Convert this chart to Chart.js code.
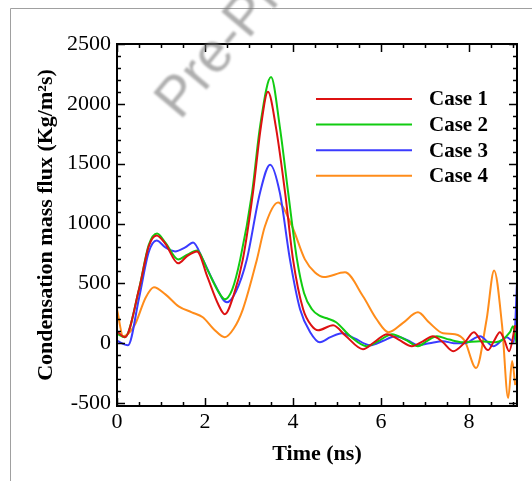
<!DOCTYPE html>
<html>
<head>
<meta charset="utf-8">
<script src="https://cdn.jsdelivr.net/npm/chart.js@4/dist/chart.umd.min.js"></script>
<style>
  html, body { margin: 0; padding: 0; background: #fff; }
  #wrap { width: 532px; height: 481px; }
</style>
</head>
<body>
<div id="wrap"><canvas id="fluxChart" width="532" height="481"></canvas></div>
<script>
// values
const seriesNames = ['Case 1', 'Case 2', 'Case 3', 'Case 4'];

const case1Time = [0, 0.18, 0.5, 0.72, 0.9, 1.1, 1.39, 1.6, 1.82, 2.05, 2.3, 2.45, 2.65, 2.86, 3.09, 3.27, 3.43, 3.61, 3.82, 4.0, 4.23, 4.43, 4.57, 4.91, 5.2, 5.59, 5.85, 6.14, 6.4, 6.7, 6.95, 7.18, 7.4, 7.64, 7.9, 8.11, 8.27, 8.43, 8.57, 8.7, 8.8, 8.91, 9.05];
const case1Flux = [100, 50, 450, 808, 900, 830, 667, 730, 767, 558, 325, 242, 400, 700, 1258, 1808, 2100, 1808, 1258, 700, 283, 142, 108, 150, 60, -50, 10, 75, 30, -25, 15, 58, 10, -67, 5, 92, 20, -58, 20, 92, 30, -67, 150];

const case2Time = [0, 0.18, 0.5, 0.72, 0.91, 1.1, 1.39, 1.6, 1.82, 2.05, 2.3, 2.45, 2.62, 2.8, 3.07, 3.25, 3.5, 3.7, 3.89, 4.09, 4.25, 4.43, 4.6, 4.77, 4.98, 5.3, 5.68, 5.95, 6.25, 6.55, 6.84, 7.05, 7.27, 7.55, 7.86, 8.25, 8.6, 8.93, 9.0, 9.08];
const case2Flux = [80, 50, 450, 820, 917, 840, 700, 740, 775, 617, 433, 367, 450, 700, 1258, 1808, 2225, 1808, 1258, 700, 420, 283, 230, 208, 175, 58, -25, 20, 75, 30, -25, 20, 58, 30, 8, 17, 8, 92, 142, 0];

const case3Time = [0, 0.25, 0.5, 0.72, 0.9, 1.1, 1.32, 1.55, 1.73, 1.95, 2.2, 2.5, 2.7, 2.95, 3.25, 3.48, 3.7, 3.93, 4.16, 4.39, 4.61, 4.85, 5.11, 5.4, 5.75, 6.05, 6.32, 6.6, 6.84, 7.1, 7.41, 7.65, 7.9, 8.25, 8.55, 8.86, 9.02, 9.09];
const case3Flux = [20, -17, 375, 760, 858, 800, 767, 800, 842, 700, 508, 342, 430, 700, 1258, 1492, 1258, 700, 283, 92, 8, 50, 83, 40, -17, 20, 58, 25, -17, 0, 17, 0, 0, 58, -25, 50, 10, 500];

const case4Time = [0, 0.14, 0.4, 0.65, 0.84, 1.1, 1.4, 1.7, 1.95, 2.2, 2.45, 2.65, 2.86, 3.18, 3.36, 3.66, 3.98, 4.27, 4.5, 4.7, 5.18, 5.59, 5.9, 6.17, 6.5, 6.84, 7.1, 7.41, 7.68, 7.9, 8.16, 8.4, 8.57, 8.75, 8.89, 8.98, 9.05];
const case4Flux = [283, 58, 150, 380, 467, 408, 308, 258, 217, 117, 50, 120, 283, 700, 975, 1175, 975, 700, 590, 552, 592, 392, 200, 92, 170, 258, 170, 83, 75, 20, -208, 200, 608, 150, -458, -150, -350];

const lineColors = ['#dd1111', '#11cc11', '#3b3bff', '#ff8c1a'];

const xTicks = [0, 2, 4, 6, 8];
const yTicks = [-500, 0, 500, 1000, 1500, 2000, 2500];

function toPoints(t, v) {
  return t.map(function (x, i) { return { x: x, y: v[i] }; });
}

const times = [case1Time, case2Time, case3Time, case4Time];
const fluxes = [case1Flux, case2Flux, case3Flux, case4Flux];

const datasets = seriesNames.map(function (name, i) {
  return {
    label: name,
    data: toPoints(times[i], fluxes[i]),
    borderColor: lineColors[i],
    backgroundColor: lineColors[i],
    borderWidth: 2,
    pointRadius: 0,
    cubicInterpolationMode: 'monotone',
    fill: false,
  };
});

const serif = "'Liberation Serif', 'Times New Roman', serif";

// page border, frame with inward ticks, legend and watermark
const decorations = {
  id: 'decorations',
  beforeDraw: function (chart) {
    const ctx = chart.ctx;
    ctx.save();
    ctx.strokeStyle = '#a0a0a0';
    ctx.lineWidth = 1;
    ctx.beginPath();
    ctx.moveTo(10.5, 481);
    ctx.lineTo(10.5, 8.5);
    ctx.lineTo(532, 8.5);
    ctx.stroke();
    ctx.restore();
  },
  afterDatasetsDraw: function (chart) {
    const ctx = chart.ctx;
    const a = chart.chartArea;
    const xs = chart.scales.x;
    const ys = chart.scales.y;
    ctx.save();
    ctx.strokeStyle = '#000';
    ctx.lineWidth = 1.5;
    ctx.beginPath();
    for (let v = 0; v <= 9.09; v += 0.5) {
      const px = Math.round(xs.getPixelForValue(v)) + 0.5;
      const len = (v % 2 === 0) ? 8 : 4;
      ctx.moveTo(px, a.bottom); ctx.lineTo(px, a.bottom - len);
      ctx.moveTo(px, a.top); ctx.lineTo(px, a.top + len);
    }
    for (let v = -500; v <= 2500; v += 100) {
      const py = Math.round(ys.getPixelForValue(v)) + 0.5;
      const len = (v % 500 === 0) ? 8 : 4;
      ctx.moveTo(a.left, py); ctx.lineTo(a.left + len, py);
      ctx.moveTo(a.right, py); ctx.lineTo(a.right - len, py);
    }
    ctx.stroke();
    ctx.lineWidth = 2;
    ctx.strokeRect(a.left, a.top, a.right - a.left, a.bottom - a.top);

    // legend
    chart.data.datasets.forEach(function (ds, i) {
      const y = 99 + i * 25.6;
      ctx.strokeStyle = ds.borderColor;
      ctx.lineWidth = 2;
      ctx.beginPath();
      ctx.moveTo(316, y);
      ctx.lineTo(412, y);
      ctx.stroke();
      ctx.fillStyle = '#000';
      ctx.font = 'bold 21px ' + serif;
      ctx.textBaseline = 'middle';
      ctx.textAlign = 'left';
      ctx.fillText(ds.label, 429, y + 1);
    });
    ctx.restore();
  },
  afterDraw: function (chart) {
    const ctx = chart.ctx;
    ctx.save();
    ctx.translate(180, 121);
    ctx.rotate(-50 * Math.PI / 180);
    ctx.font = "56px 'Liberation Sans', Arial, sans-serif";
    ctx.fillStyle = 'rgba(120, 120, 120, 0.6)';
    ctx.filter = 'blur(1.2px)';
    ctx.textBaseline = 'alphabetic';
    ctx.fillText('Pre-Print', 0, 0);
    ctx.restore();
  },
};

new Chart(document.getElementById('fluxChart').getContext('2d'), {
  type: 'line',
  data: { datasets: datasets },
  options: {
    responsive: false,
    animation: false,
    events: [],
    layout: { padding: { top: 44, right: 15, left: 0, bottom: 0 } },
    plugins: {
      legend: { display: false },
      tooltip: { enabled: false },
    },
    scales: {
      x: {
        type: 'linear',
        min: 0,
        max: 9.09,
        afterBuildTicks: function (scale) {
          scale.ticks = xTicks.map(function (v) { return { value: v }; });
        },
        afterFit: function (scale) { scale.height = 75; },
        grid: { display: false, drawTicks: false },
        border: { display: false },
        ticks: {
          padding: 3,
          color: '#000',
          font: { family: serif, size: 22 },
          maxRotation: 0,
          callback: function (value) { return String(value); },
        },
        title: {
          display: true,
          text: 'Time (ns)',
          color: '#000',
          font: { family: serif, size: 22, weight: 'bold' },
          padding: { top: 0, bottom: 13 },
        },
      },
      y: {
        type: 'linear',
        min: -525,
        max: 2500,
        afterBuildTicks: function (scale) {
          scale.ticks = yTicks.map(function (v) { return { value: v }; });
        },
        afterFit: function (scale) { scale.width = 117; },
        grid: { display: false, drawTicks: false },
        border: { display: false },
        ticks: {
          padding: 6,
          color: '#000',
          font: { family: serif, size: 22 },
          callback: function (value) { return String(value); },
        },
        title: {
          display: true,
          text: 'Condensation mass flux (Kg/m\u00B2s)',
          color: '#000',
          font: { family: serif, size: 22, weight: 'bold' },
          padding: { top: 33, bottom: 0 },
        },
      },
    },
  },
  plugins: [decorations],
});
</script>
</body>
</html>
